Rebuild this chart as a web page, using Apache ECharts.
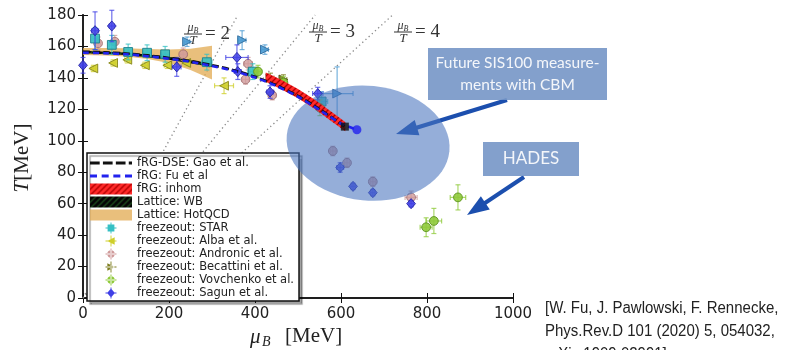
<!DOCTYPE html>
<html>
<head>
<meta charset="utf-8">
<script src="https://cdn.jsdelivr.net/npm/echarts@6/dist/echarts.min.js"></script>
<style>
  html, body { margin: 0; background: #fff; }
  #chart { width: 798px; height: 350px; }
</style>
</head>
<body>
<div id="chart"></div>
<script>
// curves (mu_B in MeV, T in MeV)
const gaoMu = [0, 50, 100, 150, 200, 250, 300, 350, 400, 450, 500, 550, 609];
const gaoT = [156.6, 156.3, 155.5, 154.3, 152.7, 150.7, 148.1, 144.9, 140.7, 135.3, 128.5, 120.2, 109];
const fuMu = [0, 50, 100, 150, 200, 250, 300, 350, 400, 450, 500, 550, 600, 637];
const fuT = [156, 155.7, 155, 153.8, 152.2, 150.2, 147.6, 144.4, 140.2, 134.8, 128, 119.6, 111, 107];
// end points of the two curves
const gaoEnd = [[609, 109]];
const fuEnd = [[637, 107]];

// bands
const inhomMu = [425, 460, 500, 540, 580, 610];
const inhomHi = [143.5, 139, 133, 126, 118, 112];
const inhomLo = [137.5, 133, 127, 120, 112, 106];
const wbMu = [0, 100, 200, 300];
const wbHi = [157.2, 156.2, 153.4, 149.2];
const wbLo = [155.6, 154.6, 151.6, 147];
const hotMu = [0, 50, 100, 150, 200, 250, 300];
const hotHi = [159, 159, 158.8, 158.4, 158, 158.6, 160.5];
const hotLo = [154.5, 154.3, 153.6, 152, 149.5, 145, 139];

// mu_B / T = const guide lines
const ratio2Line = [[0, 0], [360, 180]];
const ratio3Line = [[0, 0], [540, 180]];
const ratio4Line = [[0, 0], [720, 180]];

// freeze-out points: [mu_B, T, d mu_B, d T]
const starPts = [[28, 165, 5, 7], [67, 161, 6, 6], [105, 156.5, 8, 5], [149, 156, 9, 5], [191, 155, 10, 5], [288, 150, 12, 5], [395, 144, 12, 5], [555, 125, 14, 6]];
const albaPts = [[24, 146, 5, 2], [70, 149.5, 5, 2], [103, 151.5, 6, 2], [144, 148, 6, 2], [196, 148, 7, 2], [240, 149.5, 8, 2], [328, 135, 22, 5]];
const andronicPts = [[35, 162, 5, 4], [74, 163, 6, 4], [233, 155, 8, 4], [384, 149, 10, 4], [378, 139, 8, 3], [440, 129, 8, 3], [581, 93.5, 6, 3], [614, 86, 6, 3], [674, 74, 6, 3], [763, 64, 14, 4]];
const becattiniPts = [[436, 140, 8, 3], [466, 139, 8, 3]];
const becattiniAltPts = [[242, 163, 6, 3], [370, 164, 9, 6], [423, 158, 8, 3], [591, 130, 37, 17]];
const vovchenkoPts = [[407, 144, 8, 4], [466, 137, 8, 4], [551, 121, 10, 5], [872, 64, 18, 8], [816, 49, 18, 8], [798, 45, 14, 6]];
const sagunPts = [[0, 148, 5, 5], [28, 170, 8, 12], [67, 173, 6, 10], [218, 147, 10, 6], [358, 153, 26, 8], [360, 144, 8, 5], [435, 131, 8, 4], [546, 130, 12, 4], [598, 83, 8, 3], [628, 71, 5, 2], [674, 67, 5, 2], [763, 60, 5, 2]];

// CBM acceptance ellipse: [centre mu_B, centre T, half width mu_B, half height T]
const cbmEllipse = [[663, 98.5, 190, 36.5]];

const xTicks = [0, 200, 400, 600, 800, 1000];
const yTicks = [0, 20, 40, 60, 80, 100, 120, 140, 160, 180];

function hatch(bg, fg) {
  const c = document.createElement('canvas');
  c.width = 6; c.height = 6;
  const g = c.getContext('2d');
  g.fillStyle = bg; g.fillRect(0, 0, 6, 6);
  g.strokeStyle = fg; g.lineWidth = 1.4;
  g.beginPath();
  g.moveTo(-1, 7); g.lineTo(7, -1);
  g.moveTo(-1, 1); g.lineTo(1, -1);
  g.moveTo(5, 7); g.lineTo(7, 5);
  g.stroke();
  return { image: c, repeat: 'repeat' };
}

const redHatch = hatch('#ff2a2a', '#b30000');
const blackHatch = hatch('#050505', '#1d4a1d');

function bandSeries(name, mu, hi, lo, fill, z) {
  return {
    name, type: 'custom', z, silent: true,
    data: mu.map((m, i) => [m, hi[i], lo[i]]),
    itemStyle: { color: fill },
    renderItem(params, api) {
      if (params.dataIndex !== 0) return;
      const pts = [];
      for (let i = 0; i < mu.length; i++) pts.push(api.coord([mu[i], hi[i]]));
      for (let i = mu.length - 1; i >= 0; i--) pts.push(api.coord([mu[i], lo[i]]));
      return { type: 'polygon', shape: { points: pts }, style: { fill } };
    }
  };
}

function marker(kind, cx, cy, r) {
  if (kind === 'square') return { type: 'rect', shape: { x: cx - r, y: cy - r, width: 2 * r, height: 2 * r } };
  if (kind === 'circle') return { type: 'circle', shape: { cx, cy, r } };
  if (kind === 'left') return { type: 'polygon', shape: { points: [[cx - r, cy], [cx + r, cy - r], [cx + r, cy + r]] } };
  if (kind === 'right') return { type: 'polygon', shape: { points: [[cx + r, cy], [cx - r, cy - r], [cx - r, cy + r]] } };
  return { type: 'polygon', shape: { points: [[cx, cy - r * 1.15], [cx + r, cy], [cx, cy + r * 1.15], [cx - r, cy]] } };
}

function pointSeries(name, data, kind, fill, edge, z, alpha) {
  return {
    name, type: 'custom', z, silent: true, data,
    itemStyle: { color: fill },
    renderItem(params, api) {
      const mu = api.value(0), T = api.value(1), dm = api.value(2), dT = api.value(3);
      const c = api.coord([mu, T]);
      const l = api.coord([mu - dm, T])[0], r = api.coord([mu + dm, T])[0];
      const t = api.coord([mu, T + dT])[1], b = api.coord([mu, T - dT])[1];
      const bar = { stroke: fill, lineWidth: 1.2, opacity: 0.75 };
      const cap = 2.5;
      const m = marker(kind, c[0], c[1], 4.4);
      m.style = { fill, stroke: edge, lineWidth: 1, opacity: alpha };
      return {
        type: 'group',
        children: [
          { type: 'line', shape: { x1: l, y1: c[1], x2: r, y2: c[1] }, style: bar },
          { type: 'line', shape: { x1: c[0], y1: t, x2: c[0], y2: b }, style: bar },
          { type: 'line', shape: { x1: l, y1: c[1] - cap, x2: l, y2: c[1] + cap }, style: bar },
          { type: 'line', shape: { x1: r, y1: c[1] - cap, x2: r, y2: c[1] + cap }, style: bar },
          { type: 'line', shape: { x1: c[0] - cap, y1: t, x2: c[0] + cap, y2: t }, style: bar },
          { type: 'line', shape: { x1: c[0] - cap, y1: b, x2: c[0] + cap, y2: b }, style: bar },
          m
        ]
      };
    }
  };
}

function guideLine(pts) {
  return {
    type: 'line', data: pts, symbol: 'none', silent: true, z: 1,
    lineStyle: { color: '#8a8a8a', width: 1.3, type: [1.3, 3] }
  };
}

function curve(name, mu, T, color, dash, z) {
  return {
    name, type: 'line', smooth: 0.3, z, silent: true, symbol: 'none',
    data: mu.map((m, i) => [m, T[i]]),
    itemStyle: { color },
    lineStyle: { color, width: 2.6, type: dash }
  };
}

function endPoint(data, symbol, size, color, z) {
  return { type: 'scatter', data, symbol, symbolSize: size, z, silent: true, itemStyle: { color } };
}

const icon = {
  gaoDash: 'path://M0,0h9v2.6h-9zM12,0h9v2.6h-9zM24,0h9v2.6h-9zM36,0h3v2.6h-3z',
  fuDash: 'path://M0,0h6v2.6h-6zM10,0h6v2.6h-6zM20,0h6v2.6h-6zM30,0h6v2.6h-6z',
  square: 'path://M0,5.5h12v1h-12zM5.5,0h1v12h-1zM2.3,2.3h7.4v7.4h-7.4z',
  left: 'path://M0,5.5h12v1h-12zM5.5,0h1v12h-1zM1.8,6L10,1.8V10.2z',
  circle: 'path://M0,5.5h12v1h-12zM5.5,0h1v12h-1zM2,6a4,4 0 1,0 8,0a4,4 0 1,0 -8,0z',
  right: 'path://M0,5.5h12v1h-12zM5.5,0h1v12h-1zM10.2,6L2,1.8V10.2z',
  diamond: 'path://M0,5.5h12v1h-12zM5.5,0h1v12h-1zM6,1.2L10.2,6L6,10.8L1.8,6z'
};

function ratioLabel(x, y, n) {
  const serif = 'Liberation Serif';
  return {
    type: 'group', silent: true,
    children: [
      { type: 'text', x: x, y: y - 6, style: { text: '{m|μ}{b|B}', rich: { m: { fontSize: 12, fontStyle: 'italic', fontFamily: serif, fill: '#333' }, b: { fontSize: 8, fontStyle: 'italic', fontFamily: serif, fill: '#333', padding: [5, 0, 0, 0] } }, align: 'center', verticalAlign: 'middle' } },
      { type: 'line', shape: { x1: x - 9, y1: y, x2: x + 9, y2: y }, style: { stroke: '#333', lineWidth: 1 } },
      { type: 'text', x: x, y: y + 7, style: { text: 'T', font: 'italic 13px "Liberation Serif"', fill: '#333', align: 'center', verticalAlign: 'middle' } },
      { type: 'text', x: x + 12, y: y, style: { text: '= ' + n, font: '19px "Liberation Serif"', fill: '#333', align: 'left', verticalAlign: 'middle' } }
    ]
  };
}

function arrow(x1, y1, x2, y2) {
  const dx = x2 - x1, dy = y2 - y1, len = Math.hypot(dx, dy);
  const ux = dx / len, uy = dy / len, hl = 22, hw = 8;
  const bx = x2 - ux * hl, by = y2 - uy * hl;
  return {
    type: 'group', silent: true,
    children: [
      { type: 'line', shape: { x1, y1, x2: bx + ux * 4, y2: by + uy * 4 }, style: { stroke: '#1c4fae', lineWidth: 4 } },
      { type: 'polygon', shape: { points: [[x2, y2], [bx - uy * hw, by + ux * hw], [bx + uy * hw, by - ux * hw]] }, style: { fill: '#1c4fae' } }
    ]
  };
}

const chart = echarts.init(document.getElementById('chart'));

const axisFont = { fontFamily: 'DejaVu Sans', fontSize: 15, color: '#222' };

chart.setOption({
  animation: false,
  backgroundColor: '#fff',
  grid: { left: 83, right: 285, top: 15, bottom: 52 },
  xAxis: [
    {
      type: 'value', min: 0, max: 1000, interval: 200,
      axisLine: { lineStyle: { color: '#111', width: 1.5 } },
      axisTick: { inside: true, length: 5, lineStyle: { color: '#111' } },
      axisLabel: Object.assign({ margin: 9, formatter: v => xTicks.includes(v) ? String(v) : '' }, axisFont),
      splitLine: { show: false }
    },
    {
      type: 'value', min: 0, max: 1000, interval: 200, position: 'top',
      axisLine: { lineStyle: { color: '#111', width: 1.5 } },
      axisTick: { inside: true, length: 5, lineStyle: { color: '#111' } },
      axisLabel: { show: false }, splitLine: { show: false }
    }
  ],
  yAxis: [
    {
      type: 'value', min: 0, max: 180, interval: 20,
      axisLine: { show: true, lineStyle: { color: '#111', width: 1.5 } },
      axisTick: { show: true, inside: true, length: 5, lineStyle: { color: '#111' } },
      axisLabel: Object.assign({ margin: 7, formatter: v => yTicks.includes(v) ? String(v) : '' }, axisFont),
      splitLine: { show: false }
    },
    {
      type: 'value', min: 0, max: 180, interval: 20, position: 'right',
      axisLine: { show: true, lineStyle: { color: '#222', width: 2 } },
      axisTick: { show: true, inside: true, length: 5, lineStyle: { color: '#111' } },
      axisLabel: { show: false }, splitLine: { show: false }
    }
  ],
  legend: {
    orient: 'vertical', left: 87, top: 153,
    padding: [4, 5, 2, 3], itemGap: 1, itemWidth: 42, itemHeight: 11,
    backgroundColor: '#fff', borderColor: '#111', borderWidth: 1.5, borderRadius: 0,
    shadowColor: 'rgba(0,0,0,0.35)', shadowOffsetX: 3, shadowOffsetY: 3, shadowBlur: 1,
    selectedMode: false,
    textStyle: { fontFamily: 'DejaVu Sans', fontSize: 11.5, color: '#222', lineHeight: 11 },
    data: [
      { name: 'fRG-DSE: Gao et al.', icon: icon.gaoDash },
      { name: 'fRG: Fu et al', icon: icon.fuDash },
      { name: 'fRG: inhom', icon: 'rect' },
      { name: 'Lattice: WB', icon: 'rect' },
      { name: 'Lattice: HotQCD', icon: 'rect' },
      { name: 'freezeout: STAR', icon: icon.square },
      { name: 'freezeout: Alba et al.', icon: icon.left },
      { name: 'freezeout: Andronic et al.', icon: icon.circle },
      { name: 'freezeout: Becattini et al.', icon: icon.right },
      { name: 'freezeout: Vovchenko et al.', icon: icon.circle },
      { name: 'freezeout: Sagun et al.', icon: icon.diamond }
    ]
  },
  series: [
    guideLine(ratio2Line), guideLine(ratio3Line), guideLine(ratio4Line),
    bandSeries('Lattice: HotQCD', hotMu, hotHi, hotLo, 'rgba(226,170,80,0.75)', 2),
    bandSeries('Lattice: WB', wbMu, wbHi, wbLo, blackHatch, 3),
    pointSeries('freezeout: Alba et al.', albaPts, 'left', '#cfcf2a', '#85851a', 4, 0.9),
    pointSeries('freezeout: Andronic et al.', andronicPts, 'circle', '#cf9a9a', '#9c6a6a', 4, 0.8),
    pointSeries('freezeout: STAR', starPts, 'square', '#36c0c4', '#1e7f8c', 5, 0.9),
    pointSeries('freezeout: Becattini et al.', becattiniPts, 'right', '#7f7f22', '#4f4f10', 5, 0.9),
    pointSeries('freezeout: Becattini et al.', becattiniAltPts, 'right', '#4a9ad2', '#2c6a9c', 5, 0.9),
    pointSeries('freezeout: Vovchenko et al.', vovchenkoPts, 'circle', '#8fca3a', '#5e9420', 5, 0.9),
    pointSeries('freezeout: Sagun et al.', sagunPts, 'diamond', '#3f3fe6', '#2020a0', 6, 0.85),
    {
      type: 'custom', z: 7, silent: true, data: cbmEllipse,
      renderItem(params, api) {
        const c = api.coord([api.value(0), api.value(1)]);
        const s = api.size([api.value(2), api.value(3)]);
        return {
          type: 'ellipse', x: c[0], y: c[1], rotation: -0.1,
          shape: { cx: 0, cy: 0, rx: s[0], ry: s[1] },
          style: { fill: 'rgba(72,116,190,0.58)' }
        };
      }
    },
    bandSeries('fRG: inhom', inhomMu, inhomHi, inhomLo, redHatch, 8),
    curve('fRG-DSE: Gao et al.', gaoMu, gaoT, '#111111', [7, 3], 9),
    curve('fRG: Fu et al', fuMu, fuT, '#2222ee', [6, 4], 10),
    endPoint(gaoEnd, 'rect', 8, '#111111', 11),
    endPoint(fuEnd, 'circle', 9, '#2222ee', 11)
  ],
  graphic: [
    ratioLabel(193, 34, 2), ratioLabel(318, 32, 3), ratioLabel(403, 32, 4),
    { type: 'text', x: 22, y: 158, rotation: Math.PI / 2, silent: true,
      style: { text: '{i|T}[MeV]', rich: { i: { fontStyle: 'italic', fontFamily: 'Liberation Serif', fontSize: 21, fill: '#222' } }, font: '21px "Liberation Serif"', fill: '#222', align: 'center', verticalAlign: 'middle' } },
    { type: 'text', x: 250, y: 337, silent: true,
      style: { text: 'μ', font: 'italic 21px "Liberation Serif"', fill: '#222', align: 'left', verticalAlign: 'middle' } },
    { type: 'text', x: 262, y: 342, silent: true,
      style: { text: 'B', font: 'italic 14px "Liberation Serif"', fill: '#222', align: 'left', verticalAlign: 'middle' } },
    { type: 'text', x: 285, y: 336, silent: true,
      style: { text: '[MeV]', font: '21px "Liberation Serif"', fill: '#222', align: 'left', verticalAlign: 'middle' } },
    { type: 'rect', silent: true, shape: { x: 428, y: 48, width: 179, height: 52 }, style: { fill: 'rgba(118,150,198,0.9)' }, z: 50 },
    { type: 'text', x: 517.5, y: 74, silent: true, z: 51,
      style: { text: 'Future SIS100 measure-\nments with CBM', font: '15.5px Lato', lineHeight: 22, fill: '#f4f6fa', align: 'center', verticalAlign: 'middle' } },
    { type: 'rect', silent: true, shape: { x: 483, y: 142, width: 96, height: 34 }, style: { fill: 'rgba(118,150,198,0.9)' }, z: 50 },
    { type: 'text', x: 531, y: 159, silent: true, z: 51,
      style: { text: 'HADES', font: '17px Lato', fill: '#f4f6fa', align: 'center', verticalAlign: 'middle' } },
    Object.assign(arrow(507, 100, 396, 134), { z: 52 }),
    Object.assign(arrow(524, 177, 467, 215), { z: 52 }),
    { type: 'text', x: 545, y: 297, silent: true, scaleY: 1.15,
      style: { text: '[W. Fu, J. Pawlowski, F. Rennecke,\nPhys.Rev.D 101 (2020) 5, 054032,\narXiv:1909.02991]', font: '15px "Liberation Sans"', lineHeight: 20, fill: '#222', align: 'left', verticalAlign: 'top' } }
  ]
});
</script>
</body>
</html>
